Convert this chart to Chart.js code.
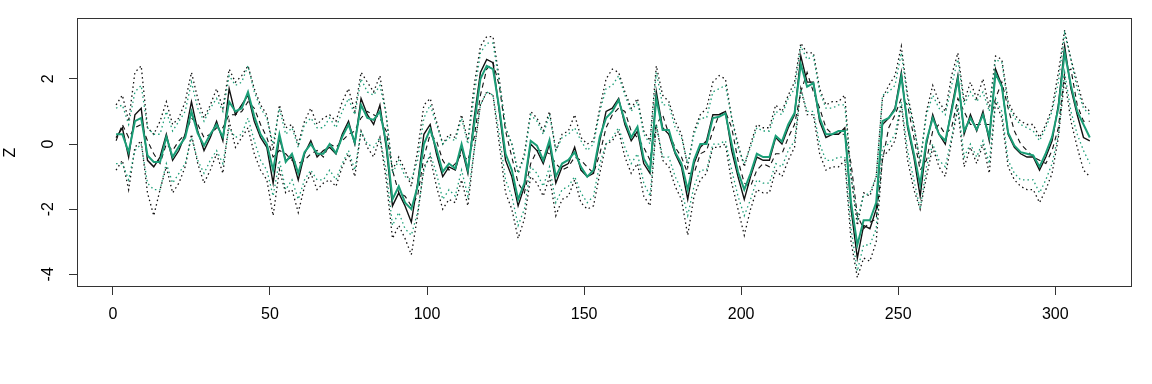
<!DOCTYPE html>
<html>
<head>
<meta charset="utf-8">
<script src="https://cdn.jsdelivr.net/npm/chart.js@4.4.1/dist/chart.umd.min.js"></script>
<style>
  html, body { margin: 0; padding: 0; background: #fff; }
  #wrap { width: 1152px; height: 384px; }
</style>
</head>
<body>
<div id="wrap"><canvas id="chart" width="1152" height="384"></canvas></div>
<script>
// tick labels
const xTicks = [0, 50, 100, 150, 200, 250, 300];
const yTicks = [-4, -2, 0, 2];

// time index (every second step, 1..311)
const steps = Array.from({ length: 156 }, (_, i) => 1 + 2 * i);

// green solid estimate
const gMean = [
  0.3, 0.3, -0.25, 0.7, 0.8, -0.35, -0.55, -0.55, 0.22, -0.4,
  -0.08, 0.2, 1.0, 0.33, -0.05, 0.3, 0.6, 0.22, 1.3, 1.0,
  1.1, 1.6, 0.85, 0.3, 0.0, -0.8, 0.3, -0.55, -0.3, -0.9,
  -0.25, 0.0, -0.3, -0.3, 0.0, -0.28, 0.22, 0.6, 0.05, 1.2,
  0.8, 0.74, 1.0, 0.05, -1.7, -1.3, -1.8, -2.0, -1.3, 0.0,
  0.45, -0.15, -0.85, -0.6, -0.75, 0.0, -0.8, 0.6, 2.0, 2.4,
  2.3, 1.1, -0.3, -0.8, -1.7, -1.2, 0.1, -0.05, -0.5, 0.12,
  -1.0, -0.6, -0.49, -0.25, -0.7, -1.0, -0.8, 0.22, 0.8, 1.0,
  1.35, 0.7, 0.2, 0.53, -0.45, -0.8, 1.4, 0.43, 0.43, -0.25,
  -0.6, -1.4, -0.49, 0.0, 0.0, 0.8, 0.84, 0.94, 0.0, -0.85,
  -1.4, -0.9, -0.3, -0.4, -0.4, 0.25, 0.08, 0.6, 0.95, 2.45,
  1.76, 1.87, 0.8, 0.3, 0.3, 0.4, 0.4, -1.8, -3.1, -2.34,
  -2.34, -1.8, 0.7, 0.8, 1.05, 2.07, 0.6, -0.3, -1.25, 0.1,
  0.8, 0.3, 0.1, 1.0, 2.0, 0.4, 0.8, 0.45, 0.9, 0.22,
  2.17, 1.76, 0.35, -0.05, -0.25, -0.3, -0.35, -0.7, -0.28, 0.22,
  1.1, 2.8, 1.8, 1.0, 0.6, 0.2
];
// green dotted upper / lower
const gHi = [
  1.1, 1.2, 0.6, 1.6, 1.8, 0.5, 0.3, 0.3, 1.0, 0.4,
  0.7, 1.0, 1.9, 1.1, 0.7, 1.1, 1.4, 1.0, 2.1, 1.8,
  1.9, 2.4, 1.6, 1.1, 0.8, 0.0, 1.1, 0.3, 0.5, -0.1,
  0.6, 0.8, 0.5, 0.5, 0.8, 0.5, 1.0, 1.4, 0.9, 2.0,
  1.6, 1.5, 1.8, 0.9, -0.9, -0.5, -1.0, -1.1, -0.5, 0.8,
  1.2, 0.6, 0.0, 0.2, 0.1, 0.8, 0.0, 1.5, 2.8, 3.1,
  3.1, 1.9, 0.5, 0.0, -0.9, -0.4, 0.9, 0.7, 0.3, 0.9,
  -0.2, 0.2, 0.3, 0.5, 0.1, -0.2, 0.0, 1.0, 1.7, 1.8,
  2.1, 1.5, 1.0, 1.3, 0.3, 0.0, 2.2, 1.2, 1.2, 0.5,
  0.2, -0.6, 0.3, 0.8, 0.8, 1.6, 1.7, 1.8, 0.8, -0.1,
  -0.6, -0.1, 0.5, 0.4, 0.4, 1.0, 0.9, 1.4, 1.7, 3.0,
  2.6, 2.7, 1.6, 1.1, 1.1, 1.2, 1.2, -1.0, -2.3, -1.6,
  -1.5, -1.0, 1.5, 1.6, 1.8, 2.8, 1.4, 0.5, -0.5, 0.9,
  1.5, 1.1, 0.9, 1.8, 2.6, 1.2, 1.6, 1.3, 1.6, 1.0,
  2.6, 2.5, 1.2, 0.8, 0.6, 0.5, 0.4, 0.1, 0.5, 1.0,
  1.9, 3.4, 2.6, 1.7, 1.1, 0.9
];
const gLo = [
  -0.6, -0.6, -1.1, -0.2, 0.0, -1.2, -1.4, -1.4, -0.6, -1.2,
  -0.9, -0.6, 0.2, -0.5, -0.9, -0.5, -0.2, -0.6, 0.5, 0.2,
  0.3, 0.8, 0.1, -0.5, -0.8, -1.6, -0.5, -1.4, -1.1, -1.7,
  -1.1, -0.8, -1.1, -1.1, -0.8, -1.1, -0.6, -0.2, -0.8, 0.4,
  0.0, -0.1, 0.2, -0.8, -2.5, -2.1, -2.6, -2.8, -2.1, -0.8,
  -0.3, -0.9, -1.7, -1.4, -1.6, -0.8, -1.6, -0.2, 1.2, 1.6,
  1.5, 0.3, -1.1, -1.6, -2.5, -2.0, -0.7, -0.9, -1.3, -0.7,
  -1.8, -1.4, -1.3, -1.0, -1.5, -1.8, -1.6, -0.6, 0.0, 0.2,
  0.5, -0.1, -0.6, -0.3, -1.2, -1.6, 0.6, -0.4, -0.4, -1.0,
  -1.4, -2.2, -1.3, -0.8, -0.8, 0.0, 0.0, 0.1, -0.8, -1.6,
  -2.2, -1.7, -1.1, -1.2, -1.2, -0.6, -0.7, -0.2, 0.1, 1.7,
  1.0, 1.0, 0.0, -0.5, -0.5, -0.4, -0.4, -2.6, -3.9, -3.1,
  -3.1, -2.6, -0.1, 0.0, 0.3, 1.3, -0.2, -1.1, -2.0, -0.7,
  0.0, -0.5, -0.7, 0.2, 1.2, -0.4, 0.0, -0.4, 0.1, -0.6,
  1.4, 1.0, -0.5, -0.9, -1.1, -1.1, -1.1, -1.5, -1.1, -0.6,
  0.3, 2.2, 1.0, 0.3, -0.2, -0.6
];
// black solid
const bMean = [
  0.2, 0.5, -0.4, 0.9, 1.1, -0.5, -0.7, -0.4, 0.3, -0.5,
  -0.2, 0.3, 1.3, 0.4, -0.2, 0.2, 0.7, 0.1, 1.7, 0.9,
  1.2, 1.5, 0.7, 0.2, -0.1, -1.2, 0.2, -0.5, -0.4, -1.1,
  -0.3, 0.1, -0.4, -0.2, -0.1, -0.3, 0.3, 0.7, 0.0, 1.4,
  0.9, 0.6, 1.2, -0.1, -1.9, -1.5, -1.9, -2.4, -1.2, 0.3,
  0.6, -0.3, -1.0, -0.7, -0.8, -0.1, -0.9, 0.8, 2.2, 2.6,
  2.5, 1.0, -0.5, -1.0, -1.9, -1.3, 0.0, -0.2, -0.6, 0.0,
  -1.2, -0.7, -0.6, -0.1, -0.8, -1.0, -0.9, 0.1, 1.0, 1.1,
  1.4, 0.6, 0.1, 0.4, -0.6, -0.9, 1.6, 0.5, 0.3, -0.3,
  -0.7, -1.7, -0.6, -0.1, 0.1, 0.9, 0.9, 1.0, -0.2, -1.0,
  -1.7, -1.0, -0.4, -0.5, -0.5, 0.2, 0.0, 0.5, 0.9, 2.7,
  1.9, 1.9, 0.7, 0.2, 0.3, 0.3, 0.5, -2.0, -3.5, -2.5,
  -2.6, -2.0, 0.6, 0.8, 1.1, 2.2, 0.5, -0.4, -1.6, 0.0,
  0.9, 0.3, 0.0, 1.1, 2.1, 0.3, 0.9, 0.4, 1.0, 0.1,
  2.3, 1.8, 0.3, -0.1, -0.3, -0.4, -0.4, -0.8, -0.4, 0.1,
  1.2, 3.0, 1.7, 0.9, 0.2, 0.1
];
// black dashed
const bDash = [
  0.1, 0.6, 0.2, 0.5, 0.6, 0.1, -0.3, -0.6, 0.0, -0.2,
  0.1, 0.3, 0.8, 0.6, 0.2, 0.3, 0.5, 0.5, 0.9, 0.9,
  1.0, 1.3, 1.1, 0.6, 0.2, -0.4, -0.2, -0.3, -0.5, -0.6,
  -0.5, -0.3, -0.2, -0.4, 0.0, -0.1, 0.1, 0.3, 0.4, 0.8,
  1.0, 0.9, 0.8, 0.4, -0.8, -1.5, -1.6, -1.9, -1.6, -0.4,
  0.3, 0.1, -0.5, -0.8, -0.6, -0.3, -0.5, 0.2, 1.5, 2.3,
  2.5, 1.8, 0.4, -0.4, -1.2, -1.5, -0.6, -0.2, -0.2, -0.3,
  -0.6, -0.8, -0.7, -0.4, -0.5, -0.7, -0.9, -0.3, 0.5, 0.9,
  1.1, 1.0, 0.4, 0.2, -0.1, -0.5, 0.6, 0.9, 0.3, -0.1,
  -0.4, -0.9, -0.9, -0.3, -0.2, 0.4, 0.9, 1.0, 0.5, -0.5,
  -1.2, -1.3, -0.8, -0.6, -0.7, -0.3, -0.3, 0.2, 0.6, 1.6,
  2.2, 1.6, 1.1, 0.5, 0.3, 0.3, 0.3, -0.6, -2.2, -2.6,
  -2.4, -2.3, -0.5, 0.5, 0.9, 1.4, 1.2, 0.2, -0.8, -0.5,
  0.4, 0.6, 0.3, 0.5, 1.4, 1.0, 0.6, 0.6, 0.6, 0.6,
  1.4, 1.9, 1.1, 0.4, 0.0, -0.2, -0.4, -0.5, -0.6, -0.2,
  0.5, 2.2, 2.3, 1.2, 0.7, 0.7
];
// black dotted upper / lower
const bHi = [
  1.2, 1.5, 0.7, 2.2, 2.4, 0.5, 0.3, 0.7, 1.3, 0.6,
  0.8, 1.3, 2.2, 1.4, 0.8, 1.2, 1.7, 1.1, 2.3, 1.9,
  2.1, 2.4, 1.7, 1.2, 0.9, -0.2, 1.2, 0.5, 0.6, 0.0,
  0.7, 1.1, 0.6, 0.8, 0.9, 0.7, 1.3, 1.7, 1.0, 2.2,
  1.9, 1.6, 2.1, 0.9, -0.8, -0.4, -0.8, -1.3, -0.2, 1.2,
  1.4, 0.7, 0.0, 0.3, 0.2, 0.9, 0.1, 1.8, 3.0, 3.3,
  3.3, 2.0, 0.5, 0.0, -0.9, -0.3, 1.0, 0.8, 0.4, 1.0,
  -0.2, 0.3, 0.4, 0.9, 0.2, 0.0, 0.1, 1.1, 2.0, 2.3,
  2.2, 1.6, 1.1, 1.4, 0.4, 0.1, 2.4, 1.5, 1.3, 0.7,
  0.3, -0.7, 0.4, 0.9, 1.1, 1.9, 2.1, 2.0, 0.8, 0.0,
  -0.7, 0.0, 0.6, 0.5, 0.5, 1.2, 1.0, 1.5, 1.9, 3.1,
  2.8, 2.8, 1.7, 1.2, 1.3, 1.3, 1.5, -1.0, -2.5, -1.5,
  -1.6, -1.0, 1.4, 1.8, 2.1, 3.0, 1.5, 0.6, -0.6, 1.0,
  1.8, 1.3, 1.0, 2.1, 2.8, 1.3, 1.9, 1.4, 2.0, 1.1,
  2.7, 2.6, 1.3, 0.9, 0.7, 0.6, 0.6, 0.2, 0.6, 1.1,
  2.2, 3.5, 2.6, 1.9, 1.2, 1.0
];
const bLo = [
  -0.8, -0.5, -1.4, -0.1, 0.1, -1.5, -2.2, -1.4, -0.7, -1.5,
  -1.2, -0.7, 0.3, -0.6, -1.2, -0.8, -0.3, -0.9, 0.7, -0.1,
  0.2, 0.5, -0.3, -0.8, -1.1, -2.2, -0.8, -1.5, -1.4, -2.1,
  -1.3, -0.9, -1.4, -1.2, -1.1, -1.3, -0.7, -0.3, -1.0, 0.4,
  -0.1, -0.4, 0.2, -1.1, -2.9, -2.5, -2.9, -3.4, -2.2, -0.7,
  -0.4, -1.3, -2.0, -1.7, -1.8, -1.1, -1.9, -0.2, 1.2, 1.6,
  1.5, 0.0, -1.5, -2.0, -2.9, -2.3, -1.0, -1.2, -1.6, -1.0,
  -2.2, -1.7, -1.6, -1.1, -1.8, -2.0, -1.9, -0.9, 0.0, 0.1,
  0.4, -0.4, -0.9, -0.6, -1.6, -1.9, 0.6, -0.5, -0.7, -1.3,
  -1.7, -2.8, -1.6, -1.1, -0.9, -0.1, -0.1, 0.0, -1.2, -2.0,
  -2.8, -2.0, -1.4, -1.5, -1.5, -0.8, -1.0, -0.5, -0.1, 1.7,
  0.9, 0.9, -0.3, -0.8, -0.7, -0.7, -0.5, -3.0, -4.1, -3.5,
  -3.6, -3.0, -0.4, -0.2, 0.1, 1.2, -0.5, -1.4, -2.0, -1.0,
  -0.1, -0.7, -1.0, 0.1, 1.1, -0.7, -0.1, -0.6, 0.0, -0.9,
  1.3, 0.8, -0.7, -1.1, -1.3, -1.4, -1.4, -1.8, -1.4, -0.9,
  0.2, 2.0, 0.7, -0.1, -0.8, -1.0
];

const GREEN = '#1B9E77';
const FONT = "'Liberation Sans', Arial, sans-serif";

function pts(arr) {
  return steps.map((x, i) => ({ x: x, y: arr[i] }));
}

function line(arr, color, width, dash) {
  return {
    data: pts(arr),
    borderColor: color,
    borderWidth: width,
    borderDash: dash,
    pointRadius: 0,
    tension: 0,
    fill: false
  };
}

// R style frame, rotated y labels and axis title
const framePlugin = {
  id: 'frame',
  afterDraw(chart) {
    const ctx = chart.ctx;
    const a = chart.chartArea;
    const y = chart.scales.y;
    ctx.save();
    ctx.strokeStyle = '#333';
    ctx.lineWidth = 1;
    ctx.strokeRect(Math.round(a.left) + 0.5, Math.round(a.top) + 0.5,
      Math.round(a.right - a.left) - 1, Math.round(a.bottom - a.top) - 1);
    ctx.fillStyle = '#000';
    ctx.font = '16px ' + FONT;
    ctx.textAlign = 'center';
    ctx.textBaseline = 'middle';
    yTicks.forEach(v => {
      ctx.save();
      ctx.translate(49, y.getPixelForValue(v));
      ctx.rotate(-Math.PI / 2);
      ctx.fillText(String(v), 0, 0);
      ctx.restore();
    });
    ctx.translate(11, (a.top + a.bottom) / 2);
    ctx.rotate(-Math.PI / 2);
    ctx.fillText('Z', 0, 0);
    ctx.restore();
  }
};

new Chart(document.getElementById('chart'), {
  type: 'line',
  data: {
    datasets: [
      line(gMean, GREEN, 2, []),
      line(bMean, '#111', 1.4, []),
      line(gHi, GREEN, 1.3, [1.5, 3]),
      line(gLo, GREEN, 1.3, [1.5, 3]),
      line(bDash, '#111', 1.1, [5, 4]),
      line(bHi, '#111', 1.3, [1.5, 3]),
      line(bLo, '#111', 1.3, [1.5, 3])
    ]
  },
  options: {
    responsive: false,
    animation: false,
    layout: { padding: { left: 0, right: 20, top: 18, bottom: 0 } },
    plugins: { legend: { display: false }, tooltip: { enabled: false } },
    scales: {
      x: {
        type: 'linear',
        min: -11.44,
        max: 324.44,
        afterBuildTicks: s => { s.ticks = xTicks.map(v => ({ value: v })); },
        afterFit: s => { s.height = 97; },
        border: { display: false },
        grid: { drawOnChartArea: false, drawTicks: true, tickLength: 8, color: '#333' },
        ticks: { color: '#000', font: { family: FONT, size: 16 }, padding: 10, maxRotation: 0, autoSkip: false }
      },
      y: {
        type: 'linear',
        min: -4.39,
        max: 3.87,
        afterBuildTicks: s => { s.ticks = yTicks.map(v => ({ value: v })); },
        afterFit: s => { s.width = 77; },
        border: { display: false },
        grid: { drawOnChartArea: false, drawTicks: true, tickLength: 8, color: '#333' },
        ticks: { display: false }
      }
    }
  },
  plugins: [framePlugin]
});
</script>
</body>
</html>
